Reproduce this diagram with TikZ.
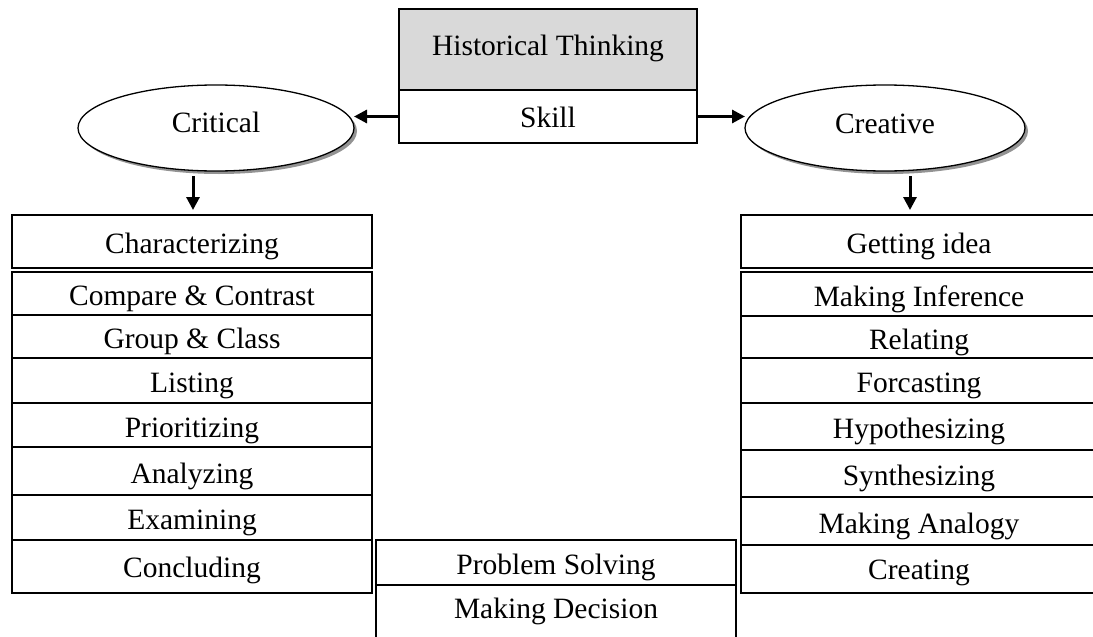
\documentclass[tikz,border=0pt]{standalone}
\usepackage{fontspec}
\setmainfont{Liberation Serif}
\usetikzlibrary{arrows.meta,positioning,shapes.geometric,shadows}

\begin{document}
\begin{tikzpicture}[
    x=1pt, y=-1pt,
    font=\fontsize{29.5}{34}\selectfont,
    box/.style={rectangle, draw, line width=1.3pt, inner sep=0pt, outer sep=0pt, minimum width=360pt, text height=24pt, text depth=-4pt},
    oval/.style={ellipse, draw, line width=1.3pt, fill=white, inner sep=0pt, outer sep=0pt, minimum height=86pt, drop shadow={shadow xshift=3pt, shadow yshift=-3pt, fill=gray!85, opacity=1}},
    arrow/.style={-{Triangle[length=13pt, width=13pt]}, line width=3pt}
]
    \path[use as bounding box] (0,0) rectangle (1093,637);
    \clip (0,0) rectangle (1093,637);

    % Top
    \node[box, fill=black!15, minimum width=298pt, minimum height=81pt, text height=20pt, text depth=9pt] (hist) at (548,49.5) {Historical Thinking};
    \node[box, below=0pt of hist, minimum width=298pt, minimum height=53pt, text height=22pt, text depth=1pt] (skill) {Skill};

    % Branches
    \node[oval, minimum width=276pt, text height=14pt, text depth=6pt] (critical) at (216,128) {Critical};
    \node[oval, minimum width=280pt, text height=15pt, text depth=5pt] (creative) at (885,128) {Creative};

    % Critical side
    \node[box, minimum height=53pt] (charz) at (192,241.5) {Characterizing};
    \node[box, minimum height=43pt] (cmp) at (192,293.5) {Compare \& Contrast};
    \node[box, below=0pt of cmp, minimum height=43pt] (grp) {Group \& Class};
    \node[box, below=0pt of grp, minimum height=45pt] (lst) {Listing};
    \node[box, below=0pt of lst, minimum height=44pt] (pri) {Prioritizing};
    \node[box, below=0pt of pri, minimum height=48pt] (ana) {Analyzing};
    \node[box, below=0pt of ana, minimum height=45pt] (exa) {Examining};
    \node[box, below=0pt of exa, minimum height=53pt, text height=22pt, text depth=1pt] (con) {Concluding};

    % Creative side
    \node[box, minimum width=356pt, minimum height=53pt] (getid) at (919,241.5) {Getting idea};
    \node[box, minimum width=356pt, minimum height=44pt] (inf) at (919,294) {Making Inference};
    \node[box, below=0pt of inf, minimum width=356pt, minimum height=42pt] (rel) {Relating};
    \node[box, below=0pt of rel, minimum width=356pt, minimum height=45pt] (fore) {Forcasting};
    \node[box, below=0pt of fore, minimum width=356pt, minimum height=47pt] (hyp) {Hypothesizing};
    \node[box, below=0pt of hyp, minimum width=356pt, minimum height=47pt] (syn) {Synthesizing};
    \node[box, below=0pt of syn, minimum width=356pt, minimum height=48pt] (anal) {Making Analogy};
    \node[box, below=0pt of anal, minimum width=356pt, minimum height=48pt, text height=22pt, text depth=1pt] (crt) {Creating};

    % Middle
    \node[box, minimum height=45pt] (ps) at (556,562.5) {Problem Solving};
    \node[box, draw=none, below=0pt of ps, minimum height=45pt, text height=22pt, text depth=1pt] (md) {Making Decision};
    \draw[line width=1.3pt] ([yshift=-15pt]md.south west) -- (md.north west) -- (md.north east) -- ([yshift=-15pt]md.south east);

    % Arrows
    \draw[arrow] (skill.west) -- (skill.west -| critical.east);
    \draw[arrow] (skill.east) -- (skill.east -| creative.west);
    \draw[arrow, shorten <=5pt, shorten >=5pt] ([xshift=-23pt]critical.south) -- ([xshift=-23pt]critical.south |- charz.north);
    \draw[arrow, shorten <=5pt, shorten >=5pt] ([xshift=25pt]creative.south) -- ([xshift=25pt]creative.south |- getid.north);

\end{tikzpicture}
\end{document}
